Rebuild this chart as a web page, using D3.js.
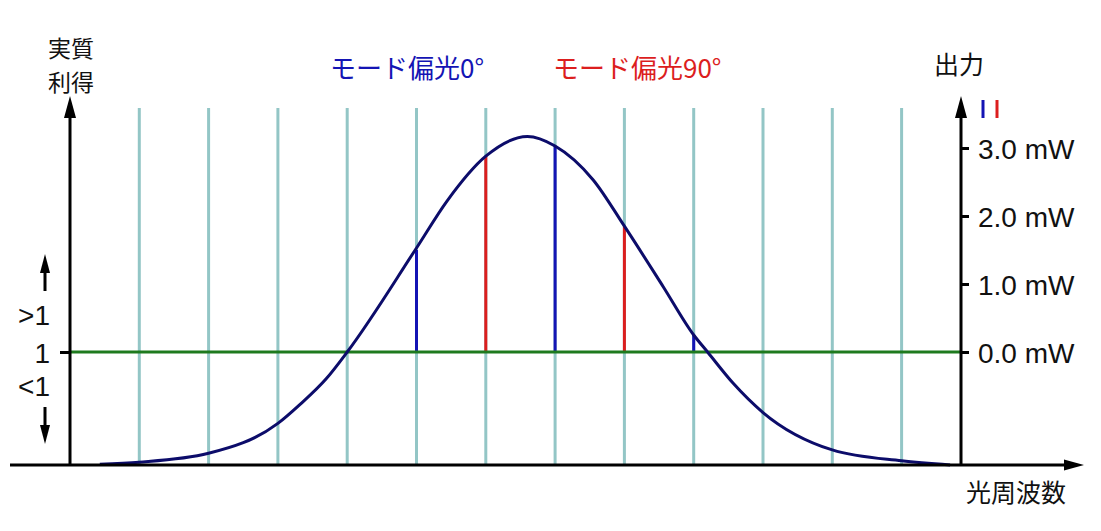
<!DOCTYPE html>
<html>
<head>
<meta charset="utf-8">
<script src="https://cdn.jsdelivr.net/npm/d3@7/dist/d3.min.js"></script>
<style>
  html, body { margin: 0; padding: 0; background: #ffffff; }
  svg { display: block; }
  .num { font-family: "Liberation Sans", Arial, sans-serif; }
  .jp { font-family: "Noto Sans CJK JP", "Noto Sans", sans-serif; }
</style>
</head>
<body>
<svg id="chart" width="1101" height="531"></svg>
<script>
// ---- data ----
// frequency grid positions (longitudinal mode indices)
const gridIndices = [1, 2, 3, 4, 5, 6, 7, 8, 9, 10, 11, 12];
// gain curve: frequency index and value on the power scale (0 = gain 1)
const curveX = [0.43, 1, 2, 3, 3.32, 3.7, 4, 5, 5.44, 6, 6.6, 7, 7.55, 8, 8.56, 9, 9.2, 9.57, 10, 11, 12, 12.7];
const curveY = [-1.65, -1.62, -1.49, -1.05, -0.77, -0.39, 0, 1.53, 2.22, 2.88, 3.17, 3.03, 2.53, 1.85, 0.96, 0.25, 0, -0.46, -0.89, -1.44, -1.60, -1.66];
// lasing modes: index, output power (mW), polarisation
const modeX = [5, 6, 7, 8, 9];
const modePower = [1.50, 2.88, 3.03, 1.85, 0.25];
const modePol = ["0", "90", "0", "90", "0"];
// tick labels
const powerTicks = [0, 1, 2, 3];
const powerTickLabels = ["0.0 mW", "1.0 mW", "2.0 mW", "3.0 mW"];
const gainTicks = [0];
const gainTickLabels = ["1"];

// ---- layout ----
const svg = d3.select("#chart");
const x = d3.scaleLinear().domain([0, 12]).range([70, 901.6]);
const y = d3.scaleLinear().domain([0, 3]).range([352, 148]);
const leftX = 70, rightX = 961, baseY = 465, gridTop = 108;
const colBlue = "#1414b4", colRed = "#dc1e1e";

// grid lines
svg.append("g").selectAll("line").data(gridIndices).join("line")
  .attr("x1", d => x(d)).attr("x2", d => x(d))
  .attr("y1", gridTop).attr("y2", baseY)
  .attr("stroke", "#93c6c6").attr("stroke-width", 3);

// mode lines
svg.append("g").selectAll("line").data(modeX.map((m, i) => ({m, p: modePower[i], pol: modePol[i]}))).join("line")
  .attr("x1", d => x(d.m)).attr("x2", d => x(d.m))
  .attr("y1", y(0)).attr("y2", d => y(d.p))
  .attr("stroke", d => d.pol === "0" ? colBlue : colRed).attr("stroke-width", 3);

// unity gain line
svg.append("line").attr("x1", leftX).attr("x2", rightX).attr("y1", y(0)).attr("y2", y(0))
  .attr("stroke", "#1e7a1e").attr("stroke-width", 3);

// gain curve
const line = d3.line().x(d => x(d[0])).y(d => y(d[1])).curve(d3.curveMonotoneX);
svg.append("path").datum(curveX.map((v, i) => [v, curveY[i]]))
  .attr("d", line).attr("fill", "none").attr("stroke", "#0c0c6a").attr("stroke-width", 3);

// axes lines
svg.append("line").attr("x1", 10).attr("x2", 1070).attr("y1", baseY).attr("y2", baseY)
  .attr("stroke", "#000").attr("stroke-width", 3);
svg.append("path").attr("d", `M1084,${baseY} L1064,${baseY - 5.5} L1064,${baseY + 5.5} Z`).attr("fill", "#000");
[leftX, rightX].forEach(ax => {
  svg.append("line").attr("x1", ax).attr("x2", ax).attr("y1", 112).attr("y2", baseY)
    .attr("stroke", "#000").attr("stroke-width", 3);
  svg.append("path").attr("d", `M${ax},96 L${ax - 6},118 L${ax + 6},118 Z`).attr("fill", "#000");
});

// right power axis
const rAxis = d3.axisRight(y).tickValues(powerTicks)
  .tickFormat((d, i) => powerTickLabels[i]).tickSize(8).tickPadding(9);
const rg = svg.append("g").attr("transform", `translate(${rightX},0)`).call(rAxis);
rg.select(".domain").remove();
rg.selectAll(".tick line").attr("stroke", "#000").attr("stroke-width", 3);
rg.selectAll(".tick text").attr("class", "num").attr("font-size", 28).attr("fill", "#111")
  .attr("dy", "0.36em");

// left gain axis
const lAxis = d3.axisLeft(y).tickValues(gainTicks)
  .tickFormat((d, i) => gainTickLabels[i]).tickSize(10).tickPadding(10);
const lg = svg.append("g").attr("transform", `translate(${leftX},0)`).call(lAxis);
lg.select(".domain").remove();
lg.selectAll(".tick line").attr("stroke", "#000").attr("stroke-width", 3);
lg.selectAll(".tick text").attr("class", "num").attr("font-size", 28).attr("fill", "#111")
  .attr("dy", "0.36em");

// >1 and <1 labels with arrows
svg.append("text").attr("class", "num").attr("x", 50).attr("y", 315).attr("dy", "0.36em")
  .attr("text-anchor", "end").attr("font-size", 28).attr("fill", "#111").text(">1");
svg.append("text").attr("class", "num").attr("x", 50).attr("y", 386).attr("dy", "0.36em")
  .attr("text-anchor", "end").attr("font-size", 28).attr("fill", "#111").text("<1");
svg.append("line").attr("x1", 45).attr("x2", 45).attr("y1", 268).attr("y2", 291).attr("stroke", "#000").attr("stroke-width", 3);
svg.append("path").attr("d", "M45,254 L40,273 L50,273 Z").attr("fill", "#000");
svg.append("line").attr("x1", 45).attr("x2", 45).attr("y1", 407).attr("y2", 430).attr("stroke", "#000").attr("stroke-width", 3);
svg.append("path").attr("d", "M45,444 L40,425 L50,425 Z").attr("fill", "#000");

// small polarisation marks beside right axis
svg.append("line").attr("x1", 983).attr("x2", 983).attr("y1", 100).attr("y2", 118).attr("stroke", colBlue).attr("stroke-width", 3);
svg.append("line").attr("x1", 997).attr("x2", 997).attr("y1", 100).attr("y2", 118).attr("stroke", colRed).attr("stroke-width", 3);

// titles
const jp = (t, xx, yy, col, anchor, fs) => svg.append("text").attr("class", "jp")
  .attr("x", xx).attr("y", yy).attr("font-size", fs || 25).attr("fill", col)
  .attr("text-anchor", anchor || "middle").text(t);
jp("実質", 71, 57, "#111", "middle", 23);
jp("利得", 71, 91, "#111", "middle", 23);
jp("出力", 959, 74, "#111");
jp("モード偏光0°", 330, 78, colBlue, "start", 26);
jp("モード偏光90°", 553, 78, colRed, "start", 26);
jp("光周波数", 1016, 502, "#111");
</script>
</body>
</html>
